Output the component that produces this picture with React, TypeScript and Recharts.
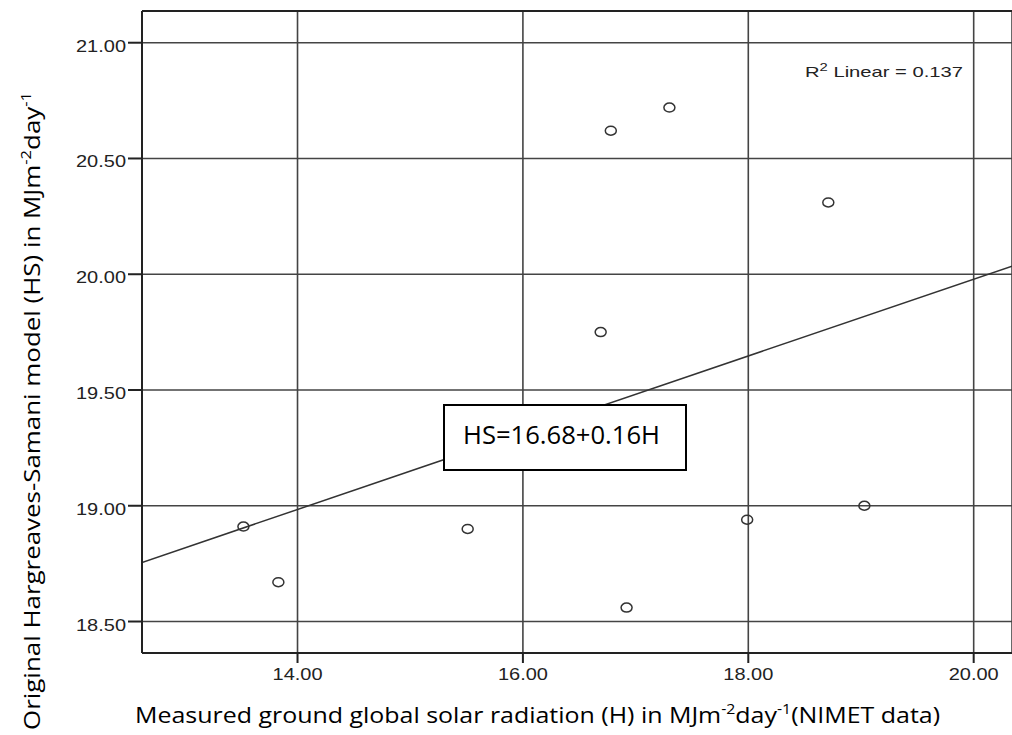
import {
  CartesianGrid,
  ComposedChart,
  Line,
  ReferenceLine,
  Scatter,
  XAxis,
  YAxis,
} from "recharts";

const measuredH = [13.52, 13.83, 15.51, 16.69, 16.78, 16.92, 17.3, 17.99, 18.71, 19.03];
const modelHS = [18.91, 18.67, 18.9, 19.75, 20.62, 18.56, 20.72, 18.94, 20.31, 19.0];

// fit line ends (left and right edge of the plot)
const fitH = [12.62, 20.34];
const fitHS = [18.755, 20.035];

const xTicks = [14, 16, 18, 20];
const yTicks = [18.5, 19, 19.5, 20, 20.5, 21];
const xDomain = [12.62, 20.34];
const yDomain = [18.364, 21.137];

const points = measuredH.map((h, i) => ({ x: h, y: modelHS[i] }));
const fit = fitH.map((h, i) => ({ x: h, y: fitHS[i] }));

const tickFont = "'Liberation Sans', Arial, sans-serif";
const titleFont = "'Open Sans', 'Noto Sans', sans-serif";

function XTick(props: any) {
  const { x, y, payload } = props;
  return (
    <text
      x={x}
      y={y + 15}
      textAnchor="middle"
      fontFamily={tickFont}
      fontSize={16.5}
      fill="#222"
      textLength={50}
      lengthAdjust="spacingAndGlyphs"
    >
      {Number(payload.value).toFixed(2)}
    </text>
  );
}

function YTick(props: any) {
  const { x, y, payload } = props;
  return (
    <text
      x={x}
      y={y + 9}
      textAnchor="end"
      fontFamily={tickFont}
      fontSize={16.5}
      fill="#222"
      textLength={50}
      lengthAdjust="spacingAndGlyphs"
    >
      {Number(payload.value).toFixed(2)}
    </text>
  );
}

function Ring(props: any) {
  const { cx, cy } = props;
  return (
    <ellipse cx={cx} cy={cy} rx={5.5} ry={4.5} fill="none" stroke="#333" strokeWidth={1.5} />
  );
}

function Overlay() {
  return (
    <svg
      width={1012}
      height={735}
      style={{ position: "absolute", left: 0, top: 0, pointerEvents: "none" }}
    >
      <text
        x={805}
        y={77}
        fontFamily={tickFont}
        fontSize={15}
        fill="#222"
        textLength={158}
        lengthAdjust="spacingAndGlyphs"
      >
        R<tspan fontSize={11} dy={-6}>2</tspan>
        <tspan dy={6}> Linear = 0.137</tspan>
      </text>

      <rect x={444} y={405} width={242} height={65} fill="#fff" stroke="#000" strokeWidth={2} />
      <text
        x={463}
        y={443.5}
        fontFamily={titleFont}
        fontSize={25}
        fill="#000"
        textLength={197}
        lengthAdjust="spacingAndGlyphs"
      >
        HS=16.68+0.16H
      </text>

      <text
        x={135}
        y={723}
        fontFamily={titleFont}
        fontSize={22}
        fill="#000"
        textLength={805}
        lengthAdjust="spacingAndGlyphs"
      >
        Measured ground global solar radiation (H) in MJm
        <tspan fontSize={14} dy={-9}>-2</tspan>
        <tspan dy={9}>day</tspan>
        <tspan fontSize={14} dy={-9}>-1</tspan>
        <tspan dy={9}>(NIMET data)</tspan>
      </text>

      <text
        x={0}
        y={0}
        transform="translate(40,411) rotate(-90)"
        textAnchor="middle"
        fontFamily={titleFont}
        fontSize={22}
        fill="#000"
        textLength={638}
        lengthAdjust="spacingAndGlyphs"
      >
        Original Hargreaves-Samani model (HS) in MJm
        <tspan fontSize={14} dy={-9}>-2</tspan>
        <tspan dy={9}>day</tspan>
        <tspan fontSize={14} dy={-9}>-1</tspan>
      </text>
    </svg>
  );
}

export default function App() {
  return (
    <div
      style={{
        position: "absolute",
        left: 0,
        top: 0,
        width: 1012,
        height: 735,
        background: "#fff",
        overflow: "hidden",
      }}
    >
      <ComposedChart
        width={1012}
        height={735}
        margin={{ top: 11, right: 0, bottom: 0, left: 0 }}
      >
        <CartesianGrid stroke="#444" strokeWidth={1.6} />
        <XAxis
          type="number"
          dataKey="x"
          domain={xDomain}
          ticks={xTicks}
          allowDataOverflow
          height={82}
          tickSize={10}
          tickMargin={2}
          tick={<XTick />}
          axisLine={{ stroke: "#222", strokeWidth: 2 }}
          tickLine={{ stroke: "#222", strokeWidth: 2 }}
        />
        <YAxis
          type="number"
          dataKey="y"
          domain={yDomain}
          ticks={yTicks}
          allowDataOverflow
          width={142}
          tickSize={14}
          tickMargin={2}
          tick={<YTick />}
          axisLine={{ stroke: "#222", strokeWidth: 2 }}
          tickLine={{ stroke: "#222", strokeWidth: 2 }}
        />
        <ReferenceLine y={yDomain[1]} stroke="#222" strokeWidth={2} />
        <Line
          data={fit}
          dataKey="y"
          stroke="#333"
          strokeWidth={1.5}
          dot={false}
          isAnimationActive={false}
        />
        <Scatter
          data={points}
          dataKey="y"
          shape={<Ring />}
          isAnimationActive={false}
        />
      </ComposedChart>
      <Overlay />
    </div>
  );
}
